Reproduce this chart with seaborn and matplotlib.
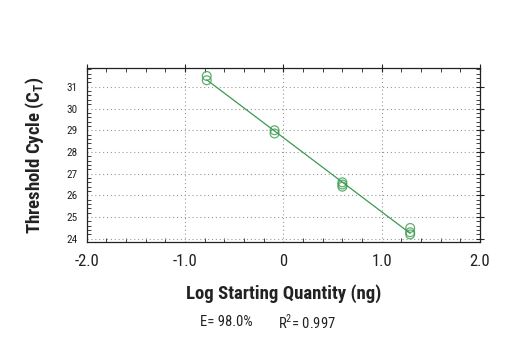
import matplotlib
matplotlib.use("Agg")
import matplotlib.pyplot as plt
import seaborn as sns
import pandas as pd
from matplotlib.ticker import MultipleLocator

log_qty = [-0.78, -0.78, -0.09, -0.09, 0.60, 0.60, 0.60, 1.29, 1.29, 1.29]
ct = [31.5, 31.3, 29.0, 28.85, 26.6, 26.5, 26.4, 24.5, 24.3, 24.2]
x_ticks = [-2.0, -1.0, 0.0, 1.0, 2.0]
x_labels = ["-2.0", "-1.0", "0", "1.0", "2.0"]
y_ticks = [24, 25, 26, 27, 28, 29, 30, 31]

df = pd.DataFrame({"x": log_qty, "y": ct})

sns.set_style("white")
plt.rcParams['font.family'] = ['Roboto Condensed', 'Liberation Sans Narrow', 'DejaVu Sans']
plt.rcParams['font.stretch'] = 'condensed'

fig = plt.figure(figsize=(5.2, 3.5), dpi=100)
ax = fig.add_axes([0.167, 0.309, 0.756, 0.497])
green = "#3a9a4e"
sns.regplot(data=df, x="x", y="y", ax=ax, ci=None,
            scatter_kws=dict(s=40, facecolors="none", edgecolors=green, linewidths=0.9),
            line_kws=dict(color=green, lw=0.9), color=green)

ax.set_xlim(-2.0, 2.0)
ax.set_ylim(23.86, 31.87)
ax.set_xticks(x_ticks)
ax.set_xticklabels(x_labels)
ax.set_yticks(y_ticks)
ax.xaxis.set_minor_locator(MultipleLocator(0.2))
ax.yaxis.set_minor_locator(MultipleLocator(0.2))
ax.grid(True, which="major", color="#999999", linestyle=(0, (1, 2.5)), lw=0.8)
ax.tick_params(which="major", direction="inout", length=6, width=0.8, colors="#222222",
               top=True, right=True, labelsize=12)
ax.tick_params(axis="x", which="major", pad=6)
ax.tick_params(axis="y", which="major", labelsize=8)
ax.tick_params(which="minor", direction="in", length=3, width=0.6, colors="#222222",
               top=True, right=True, bottom=True, left=True)
for s in ax.spines.values():
    s.set_color("#222222")
    s.set_linewidth(0.9)

ax.set_xlabel("Log Starting Quantity (ng)", fontsize=13.5, fontweight="bold", color="#222222", labelpad=11)
ax.set_ylabel(r"Threshold Cycle (C$_\mathregular{T}$)", fontsize=13.5, fontweight="bold", color="#222222", labelpad=15)

fig.text(0.385, 0.08, "E= 98.0%", fontsize=10.5, ha="left", va="center", color="#222222")
fig.text(0.535, 0.08, r"R$^\mathregular{2}$= 0.997", fontsize=10.5, ha="left", va="center", color="#222222")

fig.savefig("out.png", dpi=100)
